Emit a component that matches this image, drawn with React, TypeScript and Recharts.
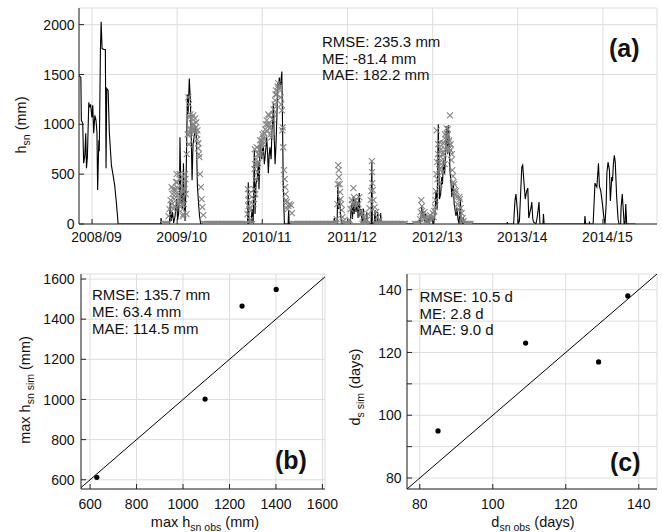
import React from 'react';
import { ComposedChart, Line, Scatter, XAxis, YAxis, CartesianGrid } from 'recharts';

const FONT = '"Liberation Sans", Arial, Helvetica, sans-serif';
const TXT = '#111111';
const AX = '#262626';
const GRID = '#dddddd';

// ---------- Panel (a): snow depth time series (x = days since 2008/09 tick, y = mm) ----------
const simS1 = [[-56,1490],[-48,1470],[-46,1040],[-40,1010],[-36,610],[-31,690],[-27,910],[-24,560],[-20,670],[-14,1220],[-10,1170],[-6,1200],[-1,1070],[3,1190],[7,910],[12,1090],[17,1040],[21,920],[24,340],[29,840],[31,730],[36,1760],[39,2030],[43,1760],[51,1750],[57,1750],[60,560],[63,1360],[69,1340],[74,920],[83,590],[90,490],[97,390],[104,220],[112,0]];
const simS2 = [[294,0],[296,60],[298,0],[332,0],[335,220],[339,30],[345,120],[350,10],[356,80],[363,250],[367,40],[371,100],[375,300],[377,870],[382,200],[385,300],[388,150],[392,610],[395,250],[399,30],[403,400],[409,1300],[412,1100],[417,1460],[422,1230],[426,800],[429,440],[433,800],[439,890],[443,960],[447,900],[452,370],[457,200],[461,80],[466,0]];
const simS3 = [[667,0],[670,420],[673,0],[682,0],[686,150],[691,0],[696,740],[699,100],[703,400],[709,470],[713,600],[716,350],[721,810],[728,650],[731,750],[735,770],[739,600],[742,670],[746,780],[749,870],[753,700],[756,510],[760,700],[763,770],[768,650],[771,900],[774,1000],[778,1210],[781,900],[785,600],[789,800],[793,1100],[796,1420],[800,1350],[803,1470],[808,1380],[814,1530],[817,1000],[820,400],[825,0],[841,0],[843,140],[846,0]];
const simS4 = [[1037,0],[1039,60],[1041,0],[1051,0],[1054,400],[1057,150],[1062,250],[1066,100],[1070,0],[1107,0],[1111,150],[1114,210],[1117,50],[1121,280],[1124,100],[1128,250],[1132,120],[1138,220],[1141,60],[1146,310],[1149,80],[1154,150],[1158,0],[1164,150],[1167,0],[1176,0],[1178,120],[1181,0],[1197,0],[1200,620],[1202,0],[1210,0],[1214,140],[1216,0],[1222,0],[1225,120],[1227,0],[1236,0],[1238,110],[1240,0]];
const simS5 = [[1402,0],[1405,60],[1408,0],[1411,80],[1414,170],[1418,60],[1422,120],[1426,30],[1430,100],[1435,0],[1441,60],[1445,0],[1450,70],[1457,40],[1460,80],[1465,0],[1471,100],[1475,340],[1480,150],[1485,1000],[1490,250],[1495,300],[1500,470],[1503,400],[1507,640],[1512,500],[1516,700],[1521,980],[1525,700],[1528,990],[1532,800],[1535,540],[1540,400],[1543,270],[1546,350],[1550,410],[1553,200],[1557,140],[1561,80],[1565,160],[1570,40],[1574,0],[1580,240],[1583,0],[1591,0],[1592,70],[1595,0]];
const simS6 = [[1780,0],[1781,20],[1783,0],[1808,0],[1814,240],[1818,300],[1824,140],[1828,0],[1833,30],[1838,300],[1843,570],[1847,590],[1853,400],[1858,250],[1864,330],[1869,360],[1873,60],[1879,130],[1883,170],[1886,220],[1890,60],[1893,20],[1904,0],[1910,80],[1917,220],[1921,0],[1934,0],[1936,100],[1939,0]];
const simS7 = [[2112,0],[2114,80],[2117,0],[2132,0],[2133,25],[2135,0],[2149,0],[2153,200],[2157,410],[2165,370],[2172,610],[2176,380],[2182,330],[2189,200],[2196,50],[2200,0],[2205,200],[2208,510],[2213,620],[2219,540],[2223,230],[2229,470],[2232,430],[2236,600],[2240,690],[2244,620],[2250,270],[2256,50],[2260,0],[2267,0],[2269,170],[2274,300],[2279,120],[2282,0],[2286,0],[2289,200],[2293,0],[2330,0]];

const obsS2 = [[305,0],[311,0],[317,0],[323,0],[326,0],[328,80],[332,150],[337,240],[341,370],[343,200],[345,300],[347,350],[349,150],[352,250],[354,180],[356,350],[358,300],[360,420],[363,500],[365,420],[367,360],[369,300],[371,250],[373,200],[375,500],[378,450],[380,380],[382,300],[384,250],[386,200],[388,150],[390,80],[392,100],[395,200],[397,350],[399,500],[400,450],[402,300],[405,100],[406,700],[410,900],[413,1270],[414,900],[415,800],[416,1200],[418,1070],[420,950],[422,1100],[425,950],[427,900],[428,1060],[431,1000],[433,950],[434,1090],[437,1000],[440,950],[442,1060],[445,970],[447,1020],[449,900],[451,850],[452,940],[455,760],[456,810],[458,700],[460,670],[463,500],[467,370],[470,250],[473,170],[477,90],[480,0],[486,0],[492,0],[498,0],[504,0],[510,0],[516,0],[522,0],[528,0],[534,0],[540,0],[546,0],[552,0],[558,0],[564,0],[570,0],[576,0],[582,0],[588,0],[594,0],[600,0],[606,0],[612,0],[618,0],[624,0],[630,0],[636,0],[642,0],[648,0],[654,0],[660,0]];
const obsS3 = [[667,100],[668,350],[670,240],[671,180],[673,300],[675,150],[678,40],[681,0],[686,0],[692,200],[694,250],[695,350],[697,550],[698,750],[699,600],[700,300],[702,450],[704,650],[706,770],[708,600],[710,520],[712,700],[713,610],[716,700],[719,750],[721,840],[724,700],[725,800],[728,840],[731,900],[733,800],[735,870],[737,850],[739,910],[743,950],[746,1000],[749,1040],[751,930],[753,1000],[756,1100],[759,1090],[761,1000],[763,970],[766,900],[769,870],[771,940],[774,1050],[778,1150],[780,1100],[783,1200],[785,1240],[787,1300],[789,1340],[792,1300],[796,1380],[799,1410],[802,1350],[806,1370],[809,1270],[811,1200],[814,1140],[816,940],[818,970],[820,770],[823,540],[826,450],[828,370],[830,300],[832,240],[835,220],[839,150],[842,180],[847,200],[854,190],[857,110],[860,0],[866,0],[872,0],[878,0],[884,0],[890,0],[896,0],[902,0],[908,0],[914,0],[920,0],[926,0],[932,0],[938,0],[944,0],[950,0],[956,0],[962,0],[968,0],[974,0],[980,0],[986,0],[992,0],[998,0],[1004,0],[1010,0],[1016,0],[1022,0],[1028,0],[1034,0],[1040,0],[1046,0]];
const obsS4 = [[1049,50],[1052,200],[1054,400],[1056,590],[1058,540],[1059,470],[1062,400],[1064,320],[1066,250],[1068,200],[1071,140],[1074,70],[1078,30],[1083,0],[1089,0],[1095,0],[1101,0],[1104,40],[1109,150],[1114,240],[1116,200],[1121,360],[1123,270],[1126,200],[1129,240],[1135,180],[1142,200],[1146,270],[1152,130],[1157,100],[1160,0],[1164,70],[1168,0],[1171,50],[1175,0],[1178,40],[1182,0],[1185,100],[1190,160],[1195,240],[1198,330],[1200,630],[1201,520],[1202,410],[1204,340],[1207,240],[1212,170],[1215,0],[1218,120],[1221,0],[1224,70],[1228,0],[1232,40],[1236,0],[1240,0],[1246,0],[1252,0],[1258,0],[1264,0],[1270,0],[1276,0],[1282,0],[1288,0],[1294,0],[1300,0],[1306,0],[1312,0],[1318,0],[1324,0],[1330,0],[1336,0],[1342,0]];
const obsS5 = [[1385,0],[1391,0],[1397,0],[1403,0],[1407,50],[1410,120],[1412,240],[1415,180],[1418,100],[1422,60],[1426,120],[1430,60],[1435,40],[1438,0],[1441,0],[1445,60],[1450,90],[1456,60],[1461,110],[1465,70],[1468,130],[1471,170],[1473,240],[1475,330],[1477,500],[1478,940],[1480,620],[1482,450],[1484,700],[1485,800],[1487,660],[1489,550],[1490,400],[1493,820],[1495,560],[1497,750],[1498,600],[1501,700],[1503,520],[1505,650],[1507,810],[1510,700],[1512,600],[1514,900],[1515,750],[1518,850],[1520,880],[1521,960],[1524,900],[1526,950],[1527,750],[1529,820],[1531,760],[1532,840],[1535,1090],[1537,740],[1538,800],[1541,640],[1543,700],[1545,540],[1548,480],[1550,420],[1553,400],[1555,340],[1558,300],[1561,330],[1564,270],[1568,200],[1572,150],[1575,270],[1578,250],[1581,160],[1585,110],[1589,60],[1593,30],[1600,0],[1606,0],[1612,0],[1618,0],[1624,0]];

const seasonTicks = [0, 365, 730, 1096, 1461, 1826, 2191];
const seasonLabels = ['2008/09', '2009/10', '2010/11', '2011/12', '2012/13', '2013/14', '2014/15'];
const depthTicks = [0, 500, 1000, 1500, 2000];

// ---------- Panel (b): maximum snow depth ----------
const maxObs = [629, 1095, 1254, 1401];
const maxSim = [612, 1002, 1465, 1548];
const maxTicks = [600, 800, 1000, 1200, 1400, 1600];

// ---------- Panel (c): snow cover duration ----------
const durObs = [85, 109, 129, 137];
const durSim = [95, 123, 117, 138];
const durXTicks = [80, 100, 120, 140];
const durYTicks = [80, 90, 100, 110, 120, 130, 140];

const toPts = (arr: number[][]) => arr.map(([d, v]) => ({ d, v }));
const simData = toPts([...simS1, ...simS2, ...simS3, ...simS4, ...simS5, ...simS6, ...simS7]);
const obsData = toPts([...obsS2, ...obsS3, ...obsS4, ...obsS5]);
const maxData = maxObs.map((x, i) => ({ x, y: maxSim[i] }));
const durData = durObs.map((x, i) => ({ x, y: durSim[i] }));
const maxDiag = [{ x: 540, y: 540 }, { x: 1640, y: 1640 }];
const durDiag = [{ x: 70, y: 70 }, { x: 150, y: 150 }];

const Cross = (p: any) => {
  const { cx, cy } = p;
  if (cx == null || cy == null) return <g />;
  const s = 3;
  return (
    <path
      d={`M${cx - s},${cy - s}L${cx + s},${cy + s}M${cx - s},${cy + s}L${cx + s},${cy - s}`}
      stroke="#858585"
      strokeWidth={1.1}
      fill="none"
    />
  );
};

const Dot = (p: any) => {
  if (p.cx == null || p.cy == null) return <g />;
  return <circle cx={p.cx} cy={p.cy} r={2.6} fill="#000" />;
};

const tickFont = { fontFamily: FONT, fontSize: 14, fill: TXT };

const bottomTick = (fmt: (v: number) => string, off: number, dx = 0) => (p: any) => (
  <text x={p.x + dx} y={p.y + off} textAnchor="middle" {...tickFont}>
    {fmt(p.payload.value)}
  </text>
);
const leftTick = (fmt: (v: number) => string, gap: number) => (p: any) => {
  const s = fmt(p.payload.value);
  if (!s) return <g />;
  return (
    <text x={p.x - gap} y={p.y} dy="0.36em" textAnchor="end" {...tickFont}>
      {s}
    </text>
  );
};

const axisCommon = {
  axisLine: { stroke: AX, strokeWidth: 1 },
  tickLine: { stroke: AX, strokeWidth: 1 },
  tickSize: -5,
  tickMargin: 5,
  interval: 0 as const,
  allowDataOverflow: true,
};

const seasonFmt = (v: number) => seasonLabels[seasonTicks.indexOf(v)] ?? '';

function PanelA() {
  return (
    <ComposedChart width={662} height={250} margin={{ top: 8, right: 5, bottom: 0, left: 0 }}>
      <CartesianGrid stroke={GRID} strokeWidth={1} />
      <XAxis
        type="number"
        dataKey="d"
        domain={[-56, 2423]}
        ticks={seasonTicks}
        height={26}
        tick={bottomTick(seasonFmt, 18, 4.5)}
        {...axisCommon}
      />
      <XAxis xAxisId="top" orientation="top" type="number" domain={[-56, 2423]} ticks={seasonTicks} height={0} tick={false} {...axisCommon} />
      <YAxis
        type="number"
        dataKey="v"
        domain={[0, 2167]}
        ticks={depthTicks}
        width={79}
        tick={leftTick((v) => String(v), 4.5)}
        {...axisCommon}
      />
      <YAxis yAxisId="right" orientation="right" type="number" domain={[0, 2167]} ticks={depthTicks} width={0} tick={false} {...axisCommon} />
      <Scatter data={obsData} shape={Cross} isAnimationActive={false} />
      <Line data={simData} dataKey="v" type="linear" stroke="#000" strokeWidth={1.1} dot={false} isAnimationActive={false} />
    </ComposedChart>
  );
}

function PanelB() {
  return (
    <ComposedChart width={360} height={282} margin={{ top: 24, right: 35, bottom: 0, left: 0 }}>
      <CartesianGrid stroke={GRID} strokeWidth={1} />
      <XAxis type="number" dataKey="x" domain={[561, 1611]} ticks={maxTicks} height={43} tick={bottomTick((v) => String(v), 20)} {...axisCommon} />
      <XAxis xAxisId="top" orientation="top" type="number" domain={[561, 1611]} ticks={maxTicks} height={0} tick={false} {...axisCommon} />
      <YAxis type="number" dataKey="y" domain={[554, 1625]} ticks={maxTicks} width={81} tick={leftTick((v) => String(v), 6.5)} {...axisCommon} />
      <YAxis yAxisId="right" orientation="right" type="number" domain={[554, 1625]} ticks={maxTicks} width={0} tick={false} {...axisCommon} />
      <Line data={maxDiag} dataKey="y" type="linear" stroke="#000" strokeWidth={1} dot={false} isAnimationActive={false} />
      <Scatter data={maxData} shape={Dot} isAnimationActive={false} />
    </ComposedChart>
  );
}

function PanelC() {
  return (
    <ComposedChart width={331} height={282} margin={{ top: 24, right: 5, bottom: 0, left: 0 }}>
      <CartesianGrid stroke={GRID} strokeWidth={1} />
      <XAxis type="number" dataKey="x" domain={[76.5, 145]} ticks={durXTicks} height={43} tick={bottomTick((v) => String(v), 20)} {...axisCommon} />
      <XAxis xAxisId="top" orientation="top" type="number" domain={[76.5, 145]} ticks={durXTicks} height={0} tick={false} {...axisCommon} />
      <YAxis type="number" dataKey="y" domain={[76.5, 145]} ticks={durYTicks} width={76} tick={leftTick((v) => (v % 20 === 0 ? String(v) : ''), 5.5)} {...axisCommon} />
      <YAxis yAxisId="right" orientation="right" type="number" domain={[76.5, 145]} ticks={durYTicks} width={0} tick={false} {...axisCommon} />
      <Line data={durDiag} dataKey="y" type="linear" stroke="#000" strokeWidth={1} dot={false} isAnimationActive={false} />
      <Scatter data={durData} shape={Dot} isAnimationActive={false} />
    </ComposedChart>
  );
}

const labelStyle = { fontFamily: FONT, fontSize: 14.5, fill: TXT };
const subSize = 10.5;

function Overlay() {
  return (
    <svg width={662} height={532} style={{ position: 'absolute', left: 0, top: 0, pointerEvents: 'none', overflow: 'visible' }}>
      {/* panel (a) */}
      <text transform="translate(25.5,125) rotate(-90)" textAnchor="middle" {...labelStyle}>
        <tspan>h</tspan>
        <tspan fontSize={subSize} dy={4}>sn</tspan>
        <tspan dy={-4}> (mm)</tspan>
      </text>
      <text x={322} y={47} {...labelStyle} fontSize={15}>RMSE: 235.3 mm</text>
      <text x={322} y={63.5} {...labelStyle} fontSize={15}>ME: -81.4 mm</text>
      <text x={322} y={80} {...labelStyle} fontSize={15}>MAE: 182.2 mm</text>
      <text x={609} y={57} fontFamily={FONT} fontSize={25} fontWeight="bold" fill={TXT}>(a)</text>

      {/* panel (b) */}
      <text transform="translate(30,390) rotate(-90)" textAnchor="middle" {...labelStyle}>
        <tspan>max h</tspan>
        <tspan fontSize={subSize} dy={4}>sn sim</tspan>
        <tspan dy={-4}> (mm)</tspan>
      </text>
      <text x={205} y={527} textAnchor="middle" {...labelStyle}>
        <tspan>max h</tspan>
        <tspan fontSize={subSize} dy={4}>sn obs</tspan>
        <tspan dy={-4}> (mm)</tspan>
      </text>
      <text x={92} y={299.5} {...labelStyle} fontSize={15}>RMSE: 135.7 mm</text>
      <text x={92} y={316.5} {...labelStyle} fontSize={15}>ME: 63.4 mm</text>
      <text x={92} y={333.5} {...labelStyle} fontSize={15}>MAE: 114.5 mm</text>
      <text x={275} y={469} fontFamily={FONT} fontSize={25} fontWeight="bold" fill={TXT}>(b)</text>

      {/* panel (c) */}
      <text transform="translate(360,387) rotate(-90)" textAnchor="middle" {...labelStyle}>
        <tspan>d</tspan>
        <tspan fontSize={subSize} dy={4}>s sim</tspan>
        <tspan dy={-4}> (days)</tspan>
      </text>
      <text x={533} y={527} textAnchor="middle" {...labelStyle}>
        <tspan>d</tspan>
        <tspan fontSize={subSize} dy={4}>sn obs</tspan>
        <tspan dy={-4}> (days)</tspan>
      </text>
      <text x={419.5} y={301.5} {...labelStyle} fontSize={15}>RMSE: 10.5 d</text>
      <text x={419.5} y={318.5} {...labelStyle} fontSize={15}>ME: 2.8 d</text>
      <text x={419.5} y={335} {...labelStyle} fontSize={15}>MAE: 9.0 d</text>
      <text x={610} y={471} fontFamily={FONT} fontSize={25} fontWeight="bold" fill={TXT}>(c)</text>
    </svg>
  );
}

export default function App() {
  return (
    <div style={{ position: 'absolute', left: 0, top: 0, width: 662, height: 532, background: '#fff', overflow: 'hidden' }}>
      <div style={{ position: 'absolute', left: 0, top: 0 }}>
        <PanelA />
      </div>
      <div style={{ position: 'absolute', left: 0, top: 250 }}>
        <PanelB />
      </div>
      <div style={{ position: 'absolute', left: 331, top: 250 }}>
        <PanelC />
      </div>
      <Overlay />
    </div>
  );
}
